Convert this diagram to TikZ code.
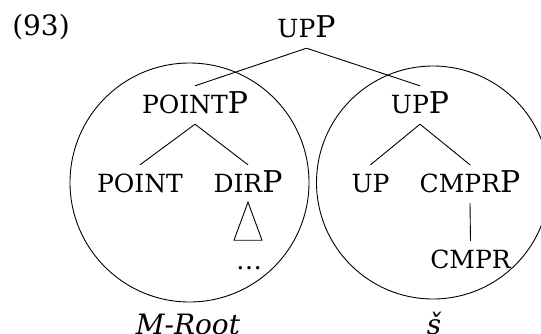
\documentclass[tikz,border=0pt]{standalone}
\usepackage{fontspec}
\setmainfont{DejaVu Serif}
\newcommand{\smc}[1]{{\fontsize{25}{25}\selectfont #1}}
\tikzset{
  x=1pt, y=-1pt,
  lab/.style={font=\fontsize{30}{30}\selectfont, anchor=base, inner xsep=0pt,
    inner ysep=6pt, text height=21pt, text depth=5pt},
  edge/.style={line width=0.9pt},
  ring/.style={line width=0.9pt},
}
\begin{document}
\begin{tikzpicture}
\useasboundingbox (0,0) rectangle (541,333);
\clip (0,0) rectangle (541,333);
\node[font=\fontsize{28}{28}\selectfont, anchor=base, inner sep=0pt] (num) at (41,35) {(93)};
\draw[ring] (189.5,182.5) circle[radius=119.5];
\draw[ring] (433,182.5) circle[radius=116.5];
\node[lab] (top) at (306.5,37) {\smc{UP}P};
\node[lab] (pointp) at (195,113) {\smc{POINT}P};
\node[lab] (upp) at (420,113) {\smc{UP}P};
\node[lab] (point) at (140,192) {\smc{POINT}};
\node[lab] (dirp) at (248,192) {\smc{DIR}P};
\node[lab] (up) at (370.5,192) {\smc{UP}};
\node[lab] (cmprp) at (470,192) {\smc{CMPR}P};
\node[lab] (cmpr) at (470.5,268) {\smc{CMPR}};
\node[font=\fontsize{26}{26}\selectfont, anchor=base, inner sep=0pt] (dots) at (249,269) {\ldots};
\node[font=\fontsize{28}{28}\selectfont\itshape, anchor=base, inner sep=0pt] (mroot) at (188,334) {M-Root};
\node[font=\fontsize{28}{28}\selectfont\itshape, anchor=base, inner sep=0pt] (s) at (434,334) {š};
\draw[edge] (top.south) -- (pointp.north);
\draw[edge] (top.south) -- (upp.north);
\draw[edge] (pointp.south) -- (point.north);
\draw[edge] (pointp.south) -- (dirp.north);
\draw[edge] (upp.south) -- (up.north);
\draw[edge] (upp.south) -- (cmprp.north);
\draw[edge] (cmprp.south) -- (cmpr.north);
\draw[edge] (dirp.south) ++(0,-1) -- ++(-14,38) -- ++(28,0) -- cycle;
\end{tikzpicture}
\end{document}
